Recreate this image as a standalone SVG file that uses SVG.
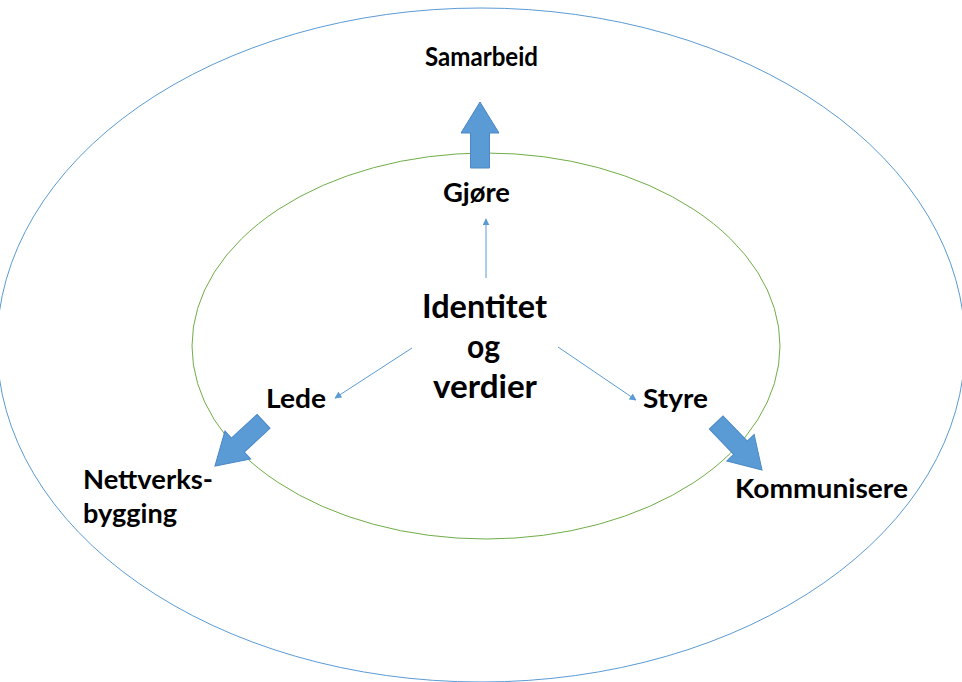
<svg xmlns="http://www.w3.org/2000/svg" width="962" height="682" viewBox="0 0 962 682">
<style>
.lbl{font-family:Lato,"Open Sans","Liberation Sans",sans-serif;font-weight:bold;font-size:27px;fill:#000;text-anchor:start}
.big{font-size:33px}
.thin{stroke:#5B9BD5;stroke-width:1;fill:none}
.block{fill:#5B9BD5;stroke:#4A88C7;stroke-width:1}
</style>
<defs>
<marker id="ah" viewBox="0 0 10 10" refX="9" refY="5" markerWidth="7" markerHeight="7" orient="auto" markerUnits="userSpaceOnUse">
<path d="M0,0 L10,5 L0,10 z" fill="#5B9BD5"/>
</marker>
<path id="blk" d="M0,0 L19,31 L9.5,31 L9.5,66 L-9.5,66 L-9.5,31 L-19,31 z"/>
</defs>
<rect width="962" height="682" fill="#fff"/>
<g id="outer"><ellipse cx="481" cy="345" rx="484" ry="337" fill="none" stroke="#5B9BD5" stroke-width="1"/></g>
<g id="inner"><ellipse cx="486" cy="346" rx="294" ry="193" fill="none" stroke="#70AD47" stroke-width="1"/></g>
<g id="connectors">
<line class="thin" x1="486" y1="278" x2="486" y2="219" marker-end="url(#ah)"/>
<line class="thin" x1="412" y1="348" x2="335" y2="398" marker-end="url(#ah)"/>
<line class="thin" x1="558" y1="347" x2="636" y2="400" marker-end="url(#ah)"/>
<use href="#blk" class="block" transform="translate(480,102)"/>
<use href="#blk" class="block" transform="translate(215,466) rotate(-132.6)"/>
<use href="#blk" class="block" transform="translate(762,470) rotate(136)"/>
</g>
<g id="samarbeid"><text class="lbl" x="425" y="66" textLength="113" lengthAdjust="spacingAndGlyphs">Samarbeid</text></g>
<g id="gjore"><text class="lbl" x="443" y="202" textLength="67" lengthAdjust="spacingAndGlyphs">Gjøre</text></g>
<g id="identitet"><text class="lbl big" x="422" y="318" textLength="125" lengthAdjust="spacingAndGlyphs">Identitet</text><text class="lbl big" x="467" y="358" textLength="33" lengthAdjust="spacingAndGlyphs">og</text><text class="lbl big" x="433" y="398" textLength="104" lengthAdjust="spacingAndGlyphs">verdier</text></g>
<g id="lede"><text class="lbl" x="266" y="408" textLength="60" lengthAdjust="spacingAndGlyphs">Lede</text></g>
<g id="styre"><text class="lbl" x="643" y="408" textLength="65" lengthAdjust="spacingAndGlyphs">Styre</text></g>
<g id="nettverk"><text class="lbl" x="83" y="489" textLength="130" lengthAdjust="spacingAndGlyphs">Nettverks-</text><text class="lbl" x="83" y="523" textLength="94" lengthAdjust="spacingAndGlyphs">bygging</text></g>
<g id="kommunisere"><text class="lbl" x="735" y="498" textLength="173" lengthAdjust="spacingAndGlyphs">Kommunisere</text></g>
</svg>
